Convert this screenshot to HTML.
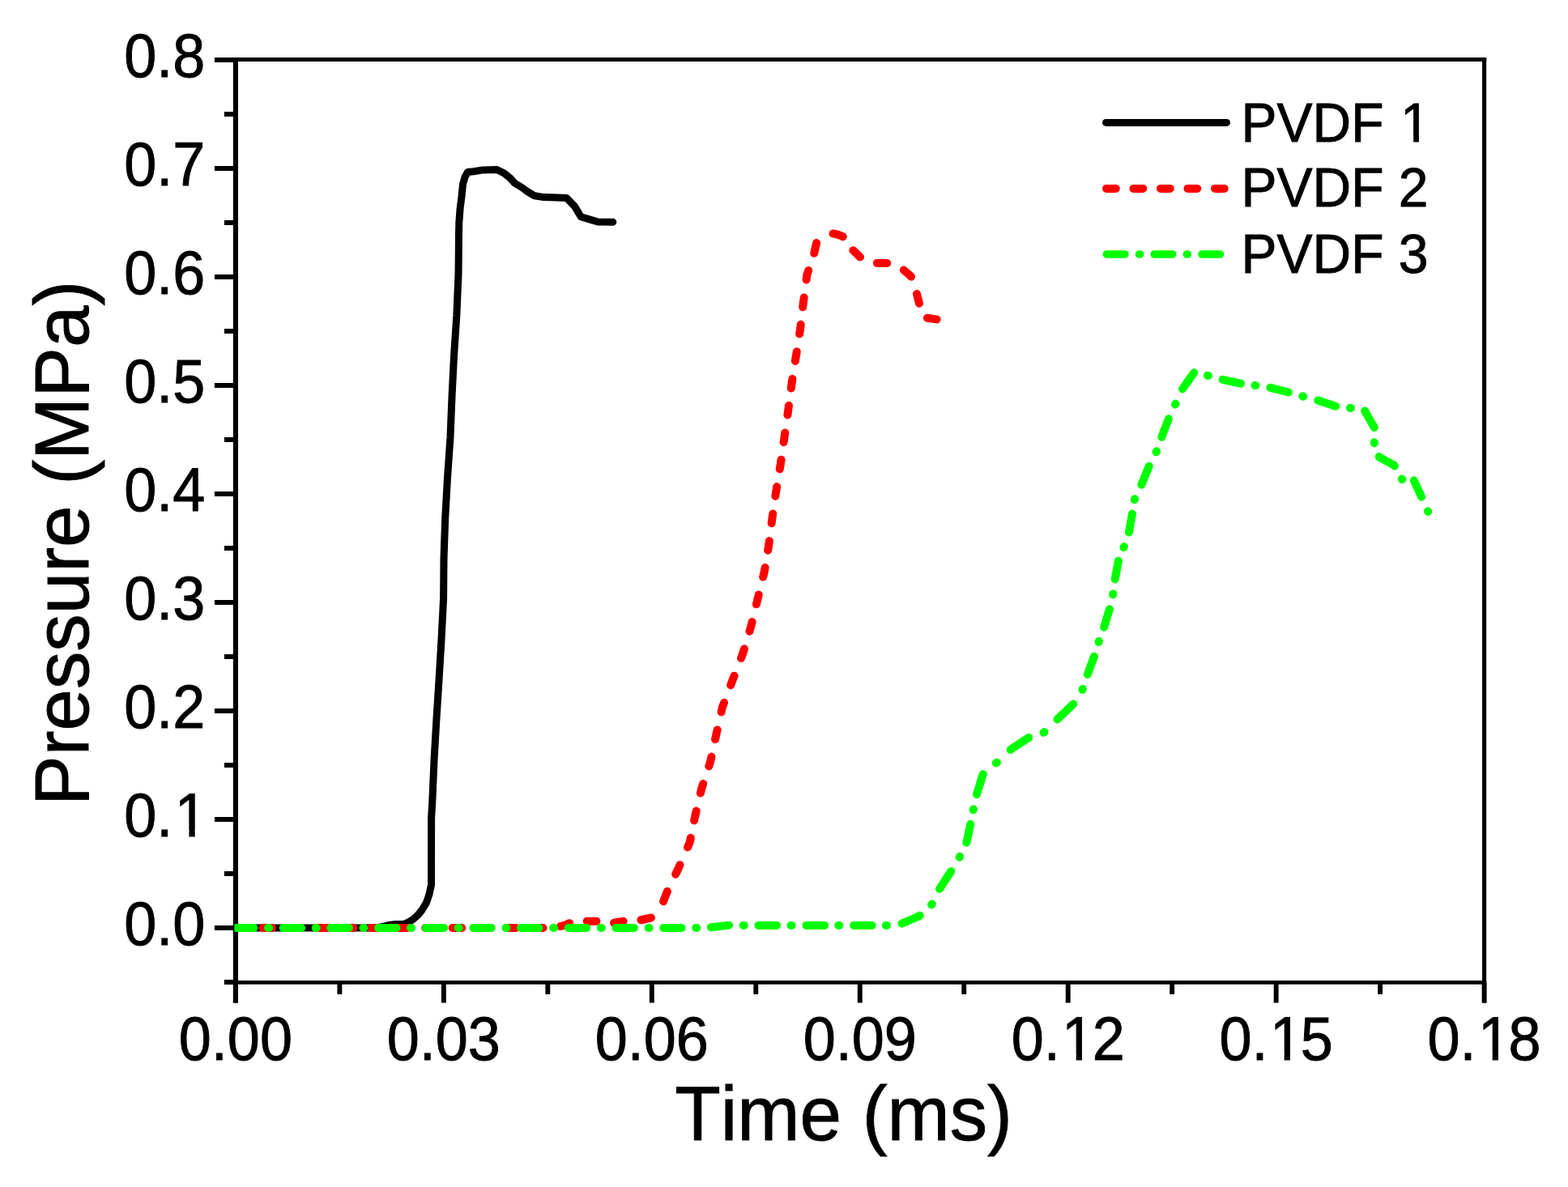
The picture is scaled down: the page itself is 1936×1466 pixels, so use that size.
<!DOCTYPE html>
<html><head><meta charset="utf-8"><title>Pressure vs Time</title>
<style>
html,body{margin:0;padding:0;background:#fff;}
svg{display:block;}
text{font-kerning:none;font-feature-settings:'kern' 0;}
.t{font-family:'Liberation Sans',Arial,Helvetica,sans-serif;font-size:72px;fill:#000;stroke:#000;stroke-width:0.9px;}
.a{font-family:'Liberation Sans',Arial,Helvetica,sans-serif;font-size:92.6px;fill:#000;stroke:#000;stroke-width:0.9px;}
.l{font-family:'Liberation Sans',Arial,Helvetica,sans-serif;font-size:66px;fill:#000;stroke:#000;stroke-width:0.9px;}
</style></head>
<body>
<svg width="1936" height="1466" viewBox="0 0 1936 1466">
<rect width="1936" height="1466" fill="#fff"/>
<path d="M264.9 1146.00H289M264.9 1012.00H289M264.9 878.00H289M264.9 744.00H289M264.9 610.00H289M264.9 476.00H289M264.9 342.00H289M264.9 208.00H289M264.9 74.00H289M276.9 1213.00H289M276.9 1079.00H289M276.9 945.00H289M276.9 811.00H289M276.9 677.00H289M276.9 543.00H289M276.9 409.00H289M276.9 275.00H289M276.9 141.00H289" stroke="#000" stroke-width="5.9" fill="none"/>
<path d="M290.90 1238.5V1214M547.85 1238.5V1214M804.80 1238.5V1214M1061.75 1238.5V1214M1318.70 1238.5V1214M1575.65 1238.5V1214M1832.60 1238.5V1214M419.37 1228V1214M676.32 1228V1214M933.27 1228V1214M1190.22 1228V1214M1447.18 1228V1214M1704.12 1228V1214" stroke="#000" stroke-width="5.9" fill="none"/>
<path d="M290.9 71V1238.5" stroke="#000" stroke-width="6.1" fill="none"/>
<path d="M1832.6 71V1238.5" stroke="#000" stroke-width="5.1" fill="none"/>
<path d="M287.8 73.5H1835.2" stroke="#000" stroke-width="5" fill="none"/>
<path d="M276.9 1213.4H1835.2" stroke="#000" stroke-width="4.9" fill="none"/>
<defs><clipPath id="pc"><rect x="289.5" y="60" width="1560" height="1160"/></clipPath></defs>
<g clip-path="url(#pc)">
<polyline points="291,1146 465,1146 472,1144.5 480,1142.5 487,1141.6 499,1141.4 504,1139.2 510,1135.5 516,1130 521,1124 526.6,1114.6 530,1104.3 532.5,1093 532.6,1010 533.8,990 536,939 538.8,890 542,840 545,790 547.6,739 548,690 549.7,640 552.5,590 556,540 558,490 560.5,440 563.8,390 566,339 566.5,290 566.8,275 568.1,257.5 570,242.5 571.5,227.5 574.1,218.5 577.5,212.5 585,211.8 596.3,209.9 613.5,209.4 622.5,214 630,220 635.3,226 645,232 651,236.5 660,241.8 671.3,243.6 687,243.9 699.5,244.4 709.8,255.2 717.2,267.7 726.8,270.6 738.2,274 756.8,274.3" fill="none" stroke="#000" stroke-width="9" stroke-linejoin="round" stroke-linecap="round"/>
<path d="M291.00 1146.00 302.68 1146.00M324.44 1146.00 336.13 1146.00M357.89 1146.00 369.57 1146.00M391.33 1146.00 403.01 1146.00M424.78 1146.00 436.46 1146.00M458.22 1146.00 469.90 1146.00M491.67 1146.00 503.35 1146.00M525.11 1146.00 536.79 1146.00M558.56 1146.00 570.24 1146.00M592.00 1146.00 603.68 1146.00M625.44 1146.00 637.12 1146.00M658.89 1146.00 670.57 1146.00M692.07 1144.05 697.70 1142.50 703.12 1140.21M724.72 1137.70 730.60 1137.70 736.44 1137.70M758.02 1139.65 763.80 1138.80 769.59 1137.86M791.37 1136.25 797.10 1135.00 803.50 1133.70 803.89 1133.48M819.11 1113.32 821.60 1106.80 823.93 1100.92M834.14 1079.69 836.90 1074.00 839.47 1068.17M849.03 1046.43 851.60 1040.60 852.77 1034.82M857.13 1013.28 858.30 1007.50 859.70 1001.60M864.90 979.60 866.30 973.70 868.20 967.88M875.30 946.22 877.20 940.40 878.44 934.62M883.06 913.08 884.30 907.30 885.63 901.40M890.57 879.40 891.90 873.50 894.07 867.74M902.13 846.26 904.30 840.50 906.55 834.67M914.95 812.93 917.20 807.10 918.95 801.30M925.45 779.70 927.20 773.90 928.61 768.07M933.89 746.33 935.30 740.50 936.75 734.60M942.15 712.60 943.60 706.70 944.56 700.99M948.14 679.71 949.10 674.00 949.85 668.12M952.65 646.18 953.40 640.30 954.24 634.47M957.36 612.73 958.20 606.90 959.16 601.07M962.74 579.33 963.70 573.50 964.52 567.72M967.58 546.18 968.40 540.40 969.24 534.50M972.36 512.50 973.20 506.60 973.95 500.87M976.75 479.53 977.50 473.80 978.43 467.90M981.87 445.90 982.80 440.00 983.71 434.17M987.09 412.43 988.00 406.60 988.68 400.82M991.22 379.28 991.90 373.50 992.67 367.58M995.53 345.52 996.30 339.60 998.26 333.96M1005.20 312.83 1006.50 307.00 1008.13 300.03M1028.51 288.48 1035.50 290.00 1040.81 292.33M1053.30 309.20 1057.50 313.20 1061.96 317.59M1082.85 324.90 1089.10 324.90 1095.28 324.96M1115.82 333.59 1120.60 337.50 1124.99 341.71M1132.03 363.10 1133.50 369.00 1134.94 374.75M1144.92 392.82 1150.80 393.60 1156.59 394.40" fill="none" stroke="#f00" stroke-width="10" stroke-linejoin="round" stroke-linecap="round"/>
<path d="M291.00 1146.00 313.45 1146.00M331.06 1146.00 332.06 1146.00M349.67 1146.00 372.12 1146.00M389.73 1146.00 390.73 1146.00M408.34 1146.00 430.79 1146.00M448.40 1146.00 449.40 1146.00M467.01 1146.00 489.46 1146.00M507.07 1146.00 508.07 1146.00M525.68 1146.00 548.13 1146.00M565.74 1146.00 566.74 1146.00M584.35 1146.00 606.80 1146.00M624.42 1146.00 625.41 1146.00M643.02 1146.00 654.25 1146.00 665.48 1146.00M683.11 1146.00 684.11 1146.00M701.73 1146.00 724.20 1146.00M741.82 1146.00 742.82 1146.00M760.44 1146.00 782.91 1146.00M800.54 1146.00 801.53 1146.00M819.16 1146.00 841.63 1146.00M859.25 1146.00 860.25 1146.00M877.83 1145.23 889.00 1144.00 900.09 1142.66M917.60 1142.89 918.10 1142.90 918.61 1142.90M936.50 1142.90 947.90 1142.90 959.04 1142.90M976.51 1142.90 977.00 1142.90 977.51 1142.90M995.52 1142.90 1007.00 1142.90 1018.02 1142.90M1035.31 1142.90 1035.80 1142.90 1036.31 1142.90M1054.14 1142.90 1065.50 1142.90 1076.56 1142.90M1093.91 1142.90 1094.40 1142.90 1094.93 1142.90M1113.48 1140.62 1124.50 1136.00 1135.30 1131.10 1135.77 1130.66M1150.09 1117.28 1150.50 1116.90 1150.76 1116.38M1160.02 1097.86 1160.10 1097.70 1167.20 1086.80 1174.25 1076.03M1184.61 1058.69 1184.90 1058.20 1185.13 1057.72M1193.34 1040.74 1193.50 1040.40 1195.90 1029.00 1198.23 1017.85M1201.60 1000.30 1201.70 999.80 1201.82 999.29M1205.93 981.12 1209.50 969.80 1213.00 958.30 1213.87 956.05M1229.81 942.36 1230.40 942.10 1230.88 941.66M1247.74 925.98 1248.90 924.90 1259.90 917.80 1270.20 911.00M1288.48 904.67 1289.00 904.50 1289.45 904.06M1305.39 888.42 1315.70 878.60 1325.33 869.43M1336.39 851.81 1336.70 851.30 1336.87 850.80M1342.79 833.02 1346.90 821.80 1350.98 810.66M1356.54 792.90 1356.70 792.40 1356.88 791.91M1363.18 774.70 1366.50 763.50 1369.88 752.29M1374.08 734.41 1374.20 733.90 1374.27 733.39M1376.71 715.39 1378.80 704.00 1380.86 692.73M1387.50 676.07 1387.70 675.60 1387.88 675.10M1393.94 657.43 1396.00 645.70 1397.93 634.62M1400.72 617.19 1400.80 616.70 1401.04 616.21M1409.34 598.72 1414.00 587.30 1418.72 575.75M1427.55 558.29 1427.80 557.80 1427.98 557.30M1434.23 539.83 1438.50 528.80 1442.84 517.22M1450.97 499.60 1451.20 499.10 1451.44 498.58M1460.03 480.46 1467.40 470.00 1474.25 460.25M1490.92 463.69 1491.40 463.90 1491.90 464.03M1509.61 468.72 1509.90 468.80 1521.00 471.30 1531.95 473.74M1549.41 475.94 1549.90 476.00 1550.41 476.08M1568.43 478.78 1568.60 478.80 1579.70 481.60 1590.87 484.49M1608.31 489.36 1608.80 489.50 1609.31 489.64M1627.25 494.49 1627.30 494.50 1638.50 498.20 1649.25 501.78M1666.90 503.84 1667.40 503.90 1667.91 503.96M1685.15 507.50 1690.90 517.60 1696.78 527.93M1696.82 546.37 1696.80 546.90 1696.96 547.37M1702.74 563.97 1703.00 564.70 1712.20 569.60 1721.40 574.60 1721.95 575.60M1730.75 591.55 1731.00 592.00 1731.45 591.97M1745.76 593.37 1750.00 602.50 1755.12 613.72M1762.98 631.40 1763.20 631.90" fill="none" stroke="#0f0" stroke-width="10" stroke-linejoin="round" stroke-linecap="round"/>
</g>
<text transform="translate(153.31 1166.80) scale(1 1.045)" class="t">0.0</text>
<text transform="translate(153.31 1032.80) scale(1 1.045)" class="t">0.<tspan dx="2.40">1</tspan></text>
<rect x="219.79" y="1025.53" width="13.62" height="8.72" fill="#fff"/>
<rect x="240.68" y="1025.53" width="13.06" height="8.72" fill="#fff"/>
<text transform="translate(153.31 898.80) scale(1 1.045)" class="t">0.2</text>
<text transform="translate(153.31 764.80) scale(1 1.045)" class="t">0.3</text>
<text transform="translate(153.31 630.80) scale(1 1.045)" class="t">0.4</text>
<text transform="translate(153.31 496.80) scale(1 1.045)" class="t">0.5</text>
<text transform="translate(153.31 362.80) scale(1 1.045)" class="t">0.6</text>
<text transform="translate(153.31 228.80) scale(1 1.045)" class="t">0.7</text>
<text transform="translate(153.31 94.80) scale(1 1.045)" class="t">0.8</text>
<text transform="translate(220.83 1308.90) scale(1 1.045)" class="t">0.00</text>
<text transform="translate(477.78 1308.90) scale(1 1.045)" class="t">0.03</text>
<text transform="translate(734.73 1308.90) scale(1 1.045)" class="t">0.06</text>
<text transform="translate(991.68 1308.90) scale(1 1.045)" class="t">0.09</text>
<text transform="translate(1248.63 1308.90) scale(1 1.045)" class="t">0.<tspan dx="2.40">1</tspan><tspan dx="-2.40">2</tspan></text>
<rect x="1315.11" y="1301.63" width="13.62" height="8.72" fill="#fff"/>
<rect x="1336.00" y="1301.63" width="13.06" height="8.72" fill="#fff"/>
<text transform="translate(1505.58 1308.90) scale(1 1.045)" class="t">0.<tspan dx="2.40">1</tspan><tspan dx="-2.40">5</tspan></text>
<rect x="1572.06" y="1301.63" width="13.62" height="8.72" fill="#fff"/>
<rect x="1592.95" y="1301.63" width="13.06" height="8.72" fill="#fff"/>
<text transform="translate(1762.53 1308.90) scale(1 1.045)" class="t">0.<tspan dx="2.40">1</tspan><tspan dx="-2.40">8</tspan></text>
<rect x="1829.01" y="1301.63" width="13.62" height="8.72" fill="#fff"/>
<rect x="1849.90" y="1301.63" width="13.06" height="8.72" fill="#fff"/>
<text transform="translate(1041.5 1408) scale(1 1.02)" text-anchor="middle" class="a">Time (ms)</text>
<text transform="translate(109.1 995.0) rotate(-90) scale(1 1.03)" class="a">Pressure (MPa)</text>
<line x1="1365.5" y1="151.4" x2="1514.5" y2="151.4" stroke="#000" stroke-width="9" stroke-linecap="round"/>
<line x1="1366" y1="232.9" x2="1516" y2="232.9" stroke="#f00" stroke-width="10" stroke-linecap="round" stroke-dasharray="11.7 21.8"/>
<line x1="1366.4" y1="314" x2="1516" y2="314" stroke="#0f0" stroke-width="9.6" stroke-linecap="round" stroke-dasharray="22.5 17.65 1 17.65"/>
<text transform="translate(1532.50 175.00) scale(1 1.035)" class="l">PVDF <tspan dx="2.20">1</tspan></text>
<rect x="1732.64" y="168.25" width="12.57" height="8.20" fill="#fff"/>
<rect x="1751.94" y="168.25" width="12.05" height="8.20" fill="#fff"/>
<text transform="translate(1532.50 254.60) scale(1 1.035)" class="l">PVDF 2</text>
<text transform="translate(1532.50 337.30) scale(1 1.035)" class="l">PVDF 3</text>
</svg>
</body></html>
